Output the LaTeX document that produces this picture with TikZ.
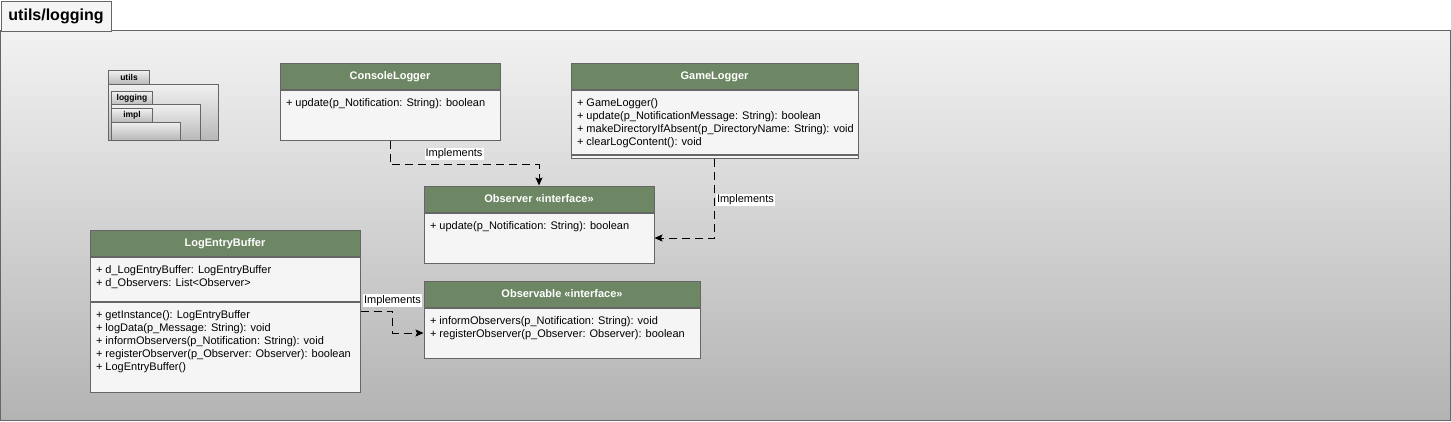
\documentclass[tikz,border=0pt]{standalone}
\usepackage{fontspec}
\setmainfont{Liberation Sans}
\usetikzlibrary{arrows.meta,scopes,positioning,calc}
\definecolor{umlHead}{RGB}{109,135,100}
\definecolor{umlBody}{RGB}{245,245,245}
\definecolor{umlLine}{RGB}{102,102,102}
\definecolor{bgTop}{RGB}{242,242,242}
\definecolor{bgBottom}{RGB}{179,179,179}

\begin{document}
\begin{tikzpicture}[x=1pt, y=-1pt, line width=1pt,
    head/.style={draw=umlLine, fill=umlHead, text=white, inner sep=0pt, minimum height=26pt,
      text height=8pt, text depth=0.5pt, font=\fontsize{11}{13}\selectfont\bfseries},
    body/.style={draw=umlLine, fill=umlBody, inner sep=0pt},
    members/.style={anchor=north west, xshift=6pt, yshift=-9pt, inner sep=0pt, align=left,
      font=\fontsize{11}{13}\selectfont},
    impl/.style={draw=black, dash pattern=on 8pt off 5pt, -{Stealth[length=8pt, width=7pt, inset=1.5pt]}},
    lbl/.style={fill=white, inner sep=1pt, font=\fontsize{11}{13}\selectfont},
    pkgfill/.style={draw=umlLine, top color=black!6, bottom color=black!28}]
    \useasboundingbox (0,0) rectangle (1451,421);
    \shade[draw=umlLine, top color=bgTop, bottom color=bgBottom] (0.5,30.5) rectangle (1450.5,420.5);
    \node[draw=umlLine, fill=umlBody, anchor=north west, minimum width=110pt, minimum height=30pt,
      font=\fontsize{16}{18}\selectfont\bfseries] (frame-tab) at (0.5,0.5) {utils/logging};

    {[every node/.style={pkgfill, inner sep=0pt, minimum width=41pt, minimum height=14pt,
        anchor=north west, font=\fontsize{8.5}{9}\selectfont\bfseries}]
    \node (utils-tab) at (108,70) {utils};
    \shade[pkgfill] (108,84) rectangle (218,140);
    \node (logging-tab) at (111,91) {logging};
    \shade[pkgfill] (111,104) rectangle (200,140);
    \node (impl-tab) at (111,108) {impl};
    \shade[pkgfill] (111,122) rectangle (180,140);
    }

    \node[head, minimum width=220pt] (CL) at (390,76) {ConsoleLogger};
    \node[body, minimum width=220pt, minimum height=50pt, below=0pt of CL] (CL-ops) {};
    \node[members] (CL-ops-text) at (CL-ops.north west) {+ update(p\_Notification: String): boolean};

    \node[head, minimum width=287pt] (GL) at (714.5,76) {GameLogger};
    \node[body, minimum width=287pt, minimum height=64pt, below=0pt of GL] (GL-ops) {};
    \node[body, minimum width=287pt, minimum height=3pt, below=0pt of GL-ops] (GL-end) {};
    \node[members] (GL-ops-text) at (GL-ops.north west) {+ GameLogger()\\
      + update(p\_NotificationMessage: String): boolean\\
      + makeDirectoryIfAbsent(p\_DirectoryName: String): void\\
      + clearLogContent(): void};

    \node[head, minimum width=230pt] (OBS) at (539,199) {Observer «interface»};
    \node[body, minimum width=230pt, minimum height=50pt, below=0pt of OBS] (OBS-ops) {};
    \node[members] (OBS-ops-text) at (OBS-ops.north west) {+ update(p\_Notification: String): boolean};

    \node[head, minimum width=276pt] (OBA) at (562,294) {Observable «interface»};
    \node[body, minimum width=276pt, minimum height=50pt, below=0pt of OBA] (OBA-ops) {};
    \node[members] (OBA-ops-text) at (OBA-ops.north west) {+ informObservers(p\_Notification: String): void\\
      + registerObserver(p\_Observer: Observer): boolean};

    \node[head, minimum width=270pt] (LEB) at (225,243) {LogEntryBuffer};
    \node[body, minimum width=270pt, minimum height=44pt, below=0pt of LEB] (LEB-attrs) {};
    \node[body, minimum width=270pt, minimum height=90pt, below=0pt of LEB-attrs] (LEB-ops) {};
    \node[members] (LEB-attrs-text) at (LEB-attrs.north west) {+ d\_LogEntryBuffer: LogEntryBuffer\\
      + d\_Observers: List<Observer>};
    \node[members] (LEB-ops-text) at (LEB-ops.north west) {+ getInstance(): LogEntryBuffer\\
      + logData(p\_Message: String): void\\
      + informObservers(p\_Notification: String): void\\
      + registerObserver(p\_Observer: Observer): boolean\\
      + LogEntryBuffer()};

    {[impl]
      \draw (CL-ops.south) -- ++(0,24) -| node[lbl, pos=0.215, above=4pt] (CL-impl) {Implements} (OBS.north);
      \draw (GL-end.south) |- node[lbl, pos=0.26, right=1pt] (GL-impl) {Implements} (OBS-ops.east);
      \draw ($(LEB.north east)!0.5!(LEB-ops.south east)$) -- ++(32,0)
        node[lbl, above=4pt] (LEB-impl) {Implements} |- (OBA-ops.west);
    }
\end{tikzpicture}
\end{document}
